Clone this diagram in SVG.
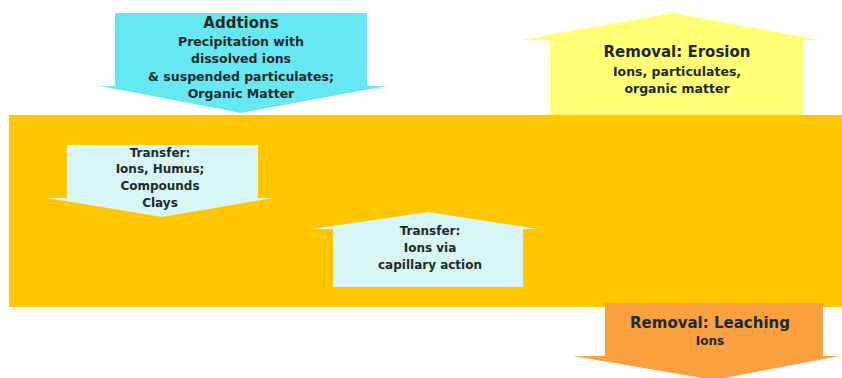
<svg xmlns="http://www.w3.org/2000/svg" width="842" height="378" viewBox="0 0 842 378">
  <style>
    .t { font-family: "DejaVu Sans", Verdana, sans-serif; font-weight: bold; fill: #1e2a2a; text-anchor: middle; }
    .h { font-size: 15px; }
    .b { font-size: 12.5px; }
    .s { font-size: 12px; }
  </style>
  <rect width="842" height="378" fill="#ffffff"/>

  <!-- soil layer -->
  <g id="soil">
    <rect x="9" y="115" width="833" height="192" fill="#ffc700"/>
  </g>

  <g id="connectors">
    <!-- additions: arrow into the soil -->
    <g id="additions">
      <path d="M115 13 H367 V86 H387 L241 113 L100 86 H115 Z" fill="#66e8f2"/>
      <text class="t h" x="241" y="28">Addtions</text>
      <text class="t b" x="241" y="46">Precipitation with</text>
      <text class="t b" x="241" y="63">dissolved ions</text>
      <text class="t b" x="241" y="81">&amp; suspended particulates;</text>
      <text class="t b" x="241" y="98">Organic Matter</text>
    </g>

    <!-- removal by erosion: arrow out of the soil -->
    <g id="erosion">
      <path d="M550 115 V40 H520 L673 13 L820 40 H803 V115 Z" fill="#ffff75"/>
      <text class="t h" x="677" y="57">Removal: Erosion</text>
      <text class="t b" x="677" y="76">Ions, particulates,</text>
      <text class="t b" x="677" y="93">organic matter</text>
    </g>

    <!-- downward transfer inside the soil -->
    <g id="transfer-down">
      <path d="M67 145 H258 V198 H273 L162 217 L47 198 H67 Z" fill="#d8f6f6"/>
      <text class="t s" x="160" y="157">Transfer:</text>
      <text class="t s" x="160" y="173">Ions, Humus;</text>
      <text class="t s" x="160" y="190">Compounds</text>
      <text class="t s" x="160" y="207">Clays</text>
    </g>

    <!-- upward transfer by capillary action -->
    <g id="transfer-up">
      <path d="M333 287 V229 H313 L428 212 L538 229 H523 V287 Z" fill="#d8f6f6"/>
      <text class="t s" x="430" y="235">Transfer:</text>
      <text class="t s" x="430" y="252">Ions via</text>
      <text class="t s" x="430" y="269">capillary action</text>
    </g>

    <!-- removal by leaching: arrow below the soil -->
    <g id="leaching">
      <path d="M605 303 H823 V356 H840 L714 380 L573 356 H605 Z" fill="#f9a13f"/>
      <text class="t h" x="710" y="328">Removal: Leaching</text>
      <text class="t s" x="710" y="345">Ions</text>
    </g>
  </g>
</svg>
